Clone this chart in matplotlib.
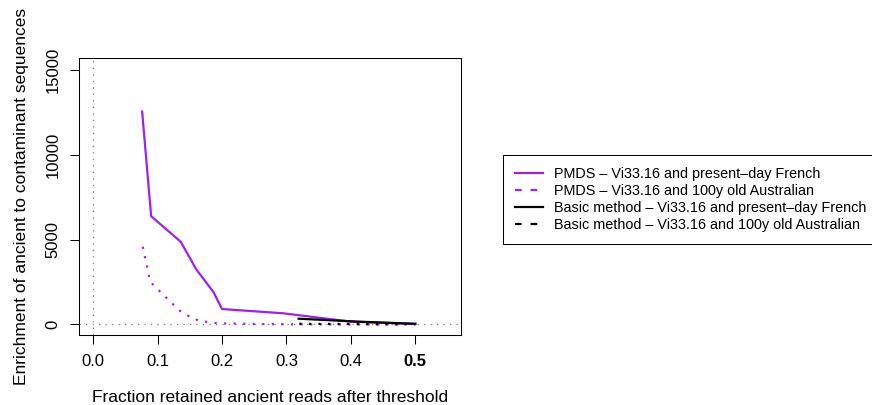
import matplotlib
matplotlib.use("Agg")
import matplotlib.pyplot as plt
from matplotlib.lines import Line2D

plt.rcParams['font.family'] = ['Liberation Sans', 'DejaVu Sans']

# PMDS - Vi33.16 and present-day French
pmds_french_x = [0.076, 0.090, 0.136, 0.160, 0.187, 0.200, 0.295, 0.399, 0.500]
pmds_french_y = [12550, 6380, 4870, 3250, 1890, 910, 660, 170, 30]

# PMDS - Vi33.16 and 100y old Australian
pmds_aus_x = [0.077, 0.0885, 0.118, 0.139, 0.164, 0.192, 0.25, 0.30, 0.35, 0.40, 0.45, 0.48]
pmds_aus_y = [4580, 2520, 1400, 660, 220, 70, 30, 15, 10, 5, 3, 2]

# Basic method - Vi33.16 and present-day French
basic_french_x = [0.319, 0.41, 0.50]
basic_french_y = [340, 170, 40]

# Basic method - Vi33.16 and 100y old Australian
basic_aus_x = [0.32, 0.37, 0.42, 0.46, 0.50]
basic_aus_y = [40, 30, 20, 10, 5]

x_ticks = [0.0, 0.1, 0.2, 0.3, 0.4, 0.5]
x_labels = ["0.0", "0.1", "0.2", "0.3", "0.4", "0.5"]
y_ticks = [0, 5000, 10000, 15000]
y_labels = ["0", "5000", "10000", "15000"]

legend_labels = [
    "PMDS – Vi33.16 and present–day French",
    "PMDS – Vi33.16 and 100y old Australian",
    "Basic method – Vi33.16 and present–day French",
    "Basic method – Vi33.16 and 100y old Australian",
]

purple = "#A020F0"
dotted = (0, (1, 3.3))

fig = plt.figure(figsize=(8.72, 4.05), dpi=100)
ax = fig.add_axes([79 / 872, 1 - 335 / 405, (461 - 79) / 872, (335 - 58) / 405])

# reference lines
ax.axvline(0, color="gray", lw=0.9, linestyle=(0, (1, 4.2)))
ax.axhline(0, color="gray", lw=0.9, linestyle=(0, (1, 4.2)))

ax.plot(pmds_french_x, pmds_french_y, color=purple, lw=1.6)
ax.plot(pmds_aus_x, pmds_aus_y, color=purple, lw=1.6, linestyle=dotted)
ax.plot(basic_french_x, basic_french_y, color="black", lw=1.6)
ax.plot(basic_aus_x, basic_aus_y, color="black", lw=1.6, linestyle=dotted)

ax.set_xlim(-0.022, 0.571)
ax.set_ylim(-620, 15700)

ax.set_xticks(x_ticks)
ax.set_xticklabels(x_labels, fontsize=12)
ax.get_xticklabels()[-1].set_fontweight("bold")
ax.set_yticks(y_ticks)
ax.set_yticklabels(y_labels, fontsize=12, rotation=90, va="center")
ax.tick_params(axis="x", length=6.5, width=0.75, pad=7)
ax.tick_params(axis="y", length=6.5, width=0.75, pad=7)
for s in ax.spines.values():
    s.set_linewidth(0.75)

ax.set_xlabel("Fraction retained ancient reads after threshold", fontsize=12.5, labelpad=15)
ax.set_ylabel("Enrichment of ancient to contaminant sequences", fontsize=12.5, labelpad=12)

handles = [
    Line2D([], [], color=purple, lw=1.6),
    Line2D([], [], color=purple, lw=1.6, linestyle=(0, (3, 4))),
    Line2D([], [], color="black", lw=1.6),
    Line2D([], [], color="black", lw=1.6, linestyle=(0, (3, 4))),
]
leg = fig.legend(handles, legend_labels, loc="upper left",
                 bbox_to_anchor=(503 / 872, 1 - 155 / 405), borderaxespad=0,
                 fontsize=10.4, fancybox=False, edgecolor="black", framealpha=1,
                 handlelength=2.0, labelspacing=0.22, borderpad=0.8,
                 handletextpad=0.75)
leg.get_frame().set_linewidth(0.75)

fig.savefig("out.png", dpi=100)
